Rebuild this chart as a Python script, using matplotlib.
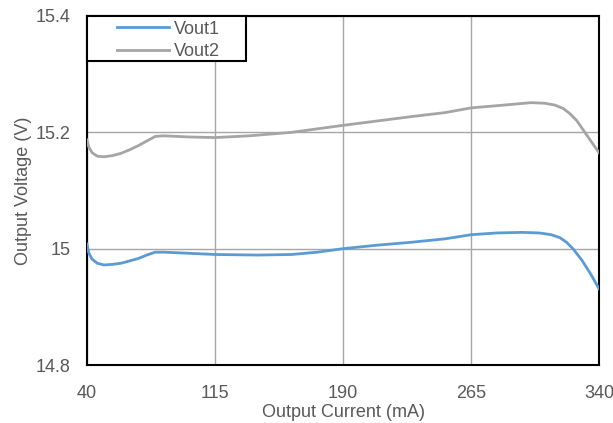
import matplotlib
matplotlib.use("Agg")
import matplotlib.pyplot as plt
from matplotlib.patches import Rectangle

plt.rcParams['font.family'] = ['Liberation Sans', 'DejaVu Sans']

# output current (mA) and voltages
i1 = [40, 41, 43, 46, 50, 55, 60, 65, 70, 75, 80, 85, 100, 115, 140, 160, 175,
      190, 210, 230, 250, 265, 280, 295, 305, 312, 317, 321, 325, 330, 335, 340]
vout1 = [15.008, 14.993, 14.982, 14.975, 14.972, 14.973, 14.975, 14.979, 14.983,
         14.989, 14.994, 14.994, 14.992, 14.990, 14.989, 14.990, 14.994, 15.000,
         15.006, 15.011, 15.017, 15.024, 15.027, 15.028, 15.027, 15.024, 15.019,
         15.011, 14.999, 14.980, 14.957, 14.931]
i2 = [40, 41, 43, 46, 50, 55, 60, 65, 70, 75, 80, 85, 100, 115, 135, 160, 190,
      230, 250, 265, 285, 300, 308, 314, 319, 323, 327, 331, 335, 340]
vout2 = [15.187, 15.175, 15.165, 15.159, 15.158, 15.160, 15.164, 15.170, 15.177,
         15.185, 15.193, 15.194, 15.192, 15.191, 15.194, 15.200, 15.212, 15.227,
         15.234, 15.242, 15.247, 15.251, 15.250, 15.247, 15.241, 15.232, 15.220,
         15.203, 15.186, 15.165]

xticks = [40, 115, 190, 265, 340]
yticks = [14.8, 15.0, 15.2, 15.4]
ylabels = ['14.8', '15', '15.2', '15.4']

txt = '#595959'
fs = 13
fig = plt.figure(figsize=(6.13, 4.23), dpi=100)
ax = fig.add_axes([0.1419, 0.1371, 0.8353, 0.8251])

ax.plot(i1, vout1, color='#5b9bd5', lw=2.0, label='Vout1', zorder=3)
ax.plot(i2, vout2, color='#a5a5a5', lw=2.0, label='Vout2', zorder=3)

ax.set_xlim(40, 340)
ax.set_ylim(14.8, 15.4)
ax.set_xticks(xticks)
ax.set_yticks(yticks)
ax.set_yticklabels(ylabels)
ax.grid(True, color='#a6a6a6', lw=1.0)
ax.set_axisbelow(True)
ax.tick_params(length=0, labelsize=fs, labelcolor=txt)
ax.tick_params(axis='y', pad=12)
ax.tick_params(axis='x', pad=14.5)
for s in ax.spines.values():
    s.set_color('black')
    s.set_linewidth(1.5)

ax.set_xlabel('Output Current (mA)', fontsize=fs, color=txt, labelpad=1.5)
ax.set_ylabel('Output Voltage (V)', fontsize=fs, color=txt, labelpad=2.5)

box = Rectangle((0, 0.871), 0.3105, 0.129, transform=ax.transAxes,
                facecolor='white', edgecolor='black', lw=1.5, zorder=4,
                clip_on=False)
ax.add_patch(box)
leg = ax.legend(loc='upper left', bbox_to_anchor=(0.0586, 0.987), frameon=False,
                borderpad=0, borderaxespad=0, handlelength=2.9,
                handletextpad=0.25, labelspacing=0.31, fontsize=fs)
for t in leg.get_texts():
    t.set_color(txt)
leg.set_zorder(5)

fig.savefig('out.png', dpi=100)
